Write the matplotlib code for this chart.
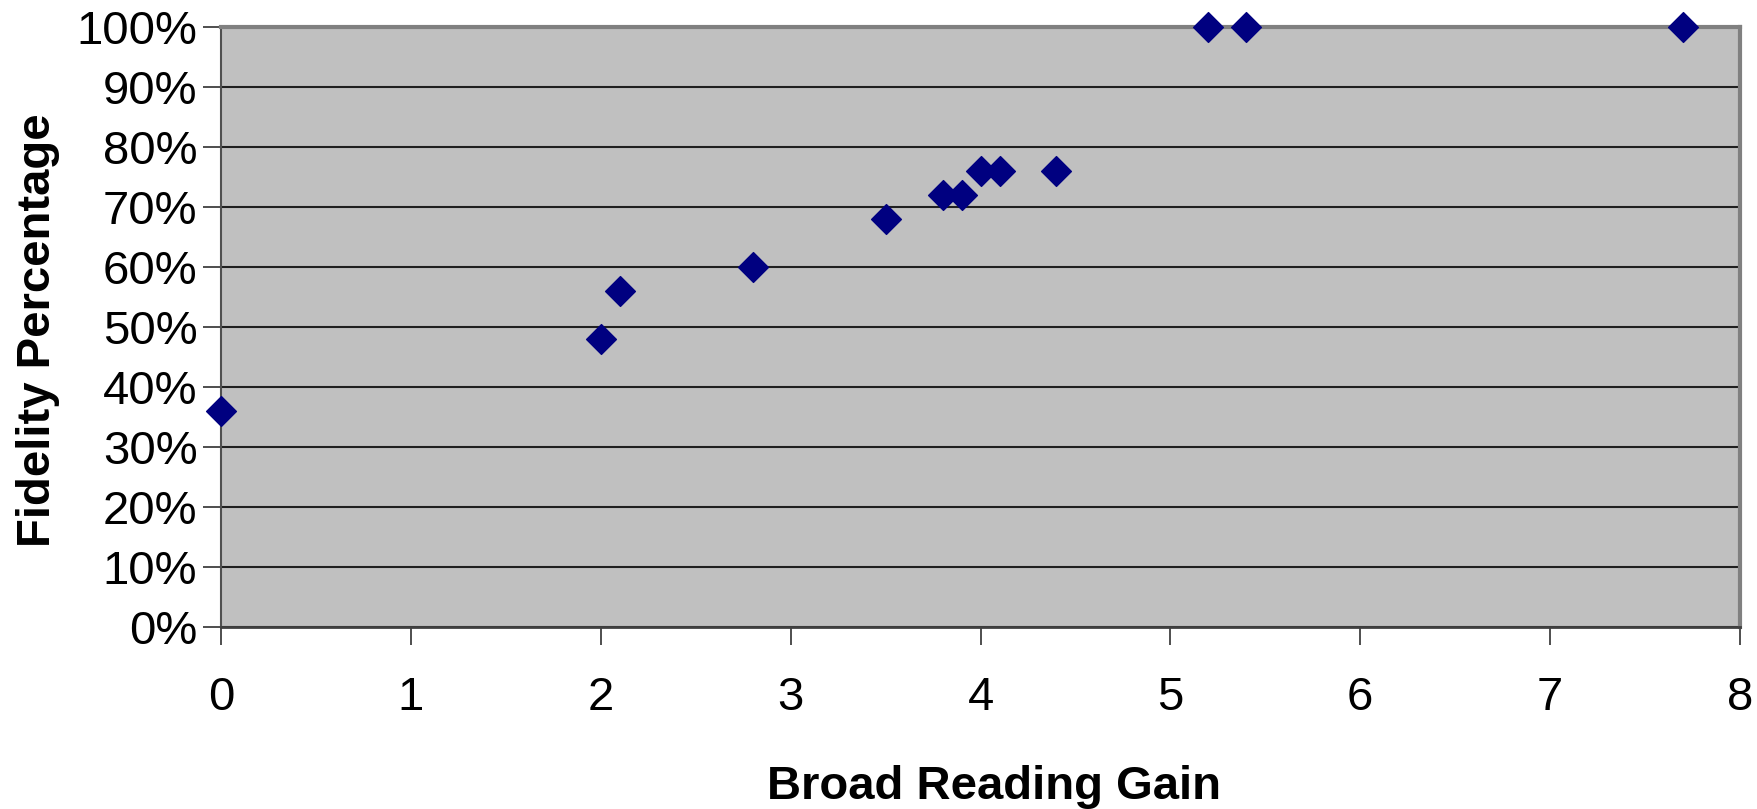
import matplotlib
matplotlib.use("Agg")
import matplotlib.pyplot as plt
from matplotlib.ticker import PercentFormatter

# reading gain vs fidelity (fraction)
gain = [0, 2.0, 2.1, 2.8, 3.5, 3.8, 3.9, 4.0, 4.1, 4.4, 5.2, 5.4, 7.7]
fidelity = [0.36, 0.48, 0.56, 0.60, 0.68, 0.72, 0.72, 0.76, 0.76, 0.76, 1.00, 1.00, 1.00]

plt.rcParams['font.family'] = ['Liberation Sans', 'DejaVu Sans']

fig = plt.figure(figsize=(17.58, 8.09), dpi=100)
ax = fig.add_axes([0.1257, 0.2250, 0.8641, 0.7416])

ax.set_facecolor('#C0C0C0')
ax.scatter(gain, fidelity, marker='D', s=230, color='#000080', zorder=3, clip_on=False)

ax.set_xlim(0, 8)
ax.set_ylim(0, 1)
ax.set_xticks(range(0, 9))
ax.set_yticks([i / 10 for i in range(11)])
ax.yaxis.set_major_formatter(PercentFormatter(1.0, decimals=0))
ax.grid(axis='y', color='#202020', linewidth=1.5, zorder=1)
ax.set_axisbelow(True)

for s in ax.spines.values():
    s.set_color('#808080')
    s.set_linewidth(3)
ax.spines['left'].set_color('#505050')
ax.spines['left'].set_linewidth(1.5)
ax.spines['bottom'].set_color('#404040')
ax.spines['bottom'].set_linewidth(2)

ax.tick_params(axis='both', direction='out', length=13, width=1.3, color='#404040', labelsize=34)
ax.tick_params(axis='x', pad=22)
ax.tick_params(axis='y', pad=4)

ax.set_xlabel('Broad Reading Gain', fontsize=34, fontweight='bold')
ax.set_ylabel('Fidelity Percentage', fontsize=34, fontweight='bold')
ax.xaxis.set_label_coords(0.509, -0.2867)
ax.xaxis.label.set_va('baseline')
ax.yaxis.set_label_coords(-0.1126, 0.494)
ax.yaxis.label.set_rotation_mode('anchor')
ax.yaxis.label.set_va('baseline')
ax.yaxis.label.set_ha('center')

fig.savefig('out.png', dpi=100)
